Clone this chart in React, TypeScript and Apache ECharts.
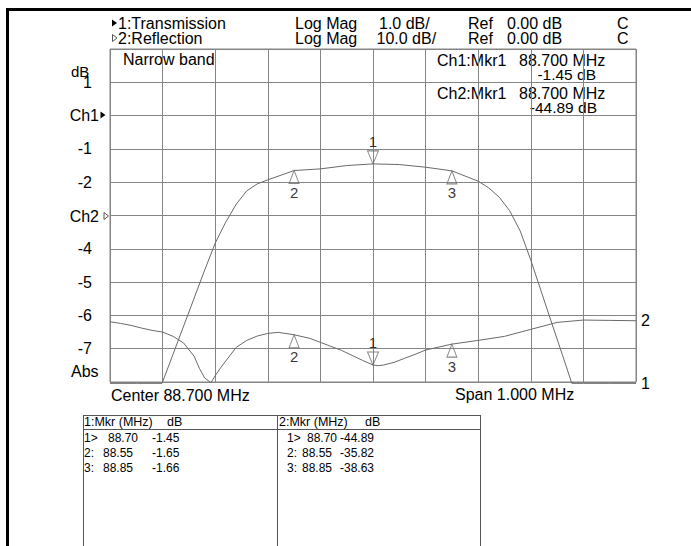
import React, { useEffect, useRef } from 'react';
import * as echarts from 'echarts';

const FONT = '"Liberation Sans", Arial, Helvetica, sans-serif';

// Channel 1 (Transmission), 1 dB/div, ref 0 dB
const freqT = [88.2, 88.25, 88.299, 88.32, 88.34, 88.36, 88.38, 88.4, 88.42, 88.44, 88.46, 88.48, 88.5, 88.55, 88.6, 88.65, 88.7, 88.75, 88.8, 88.85, 88.9, 88.92, 88.94, 88.96, 88.98, 89.0, 89.02, 89.04, 89.06, 89.078, 89.1, 89.15, 89.2];
const transmission = [-8.04, -8.04, -8.04, -7.16, -6.32, -5.48, -4.64, -3.83, -3.2, -2.66, -2.26, -2.05, -1.93, -1.65, -1.6, -1.5, -1.45, -1.47, -1.55, -1.66, -1.97, -2.17, -2.45, -2.86, -3.47, -4.34, -5.29, -6.24, -7.18, -8.04, -8.04, -8.04, -8.04];

// Channel 2 (Reflection), 10 dB/div, ref 0 dB
const freqR = [88.2, 88.22, 88.24, 88.26, 88.28, 88.3, 88.32, 88.34, 88.36, 88.37, 88.38, 88.392, 88.4, 88.41, 88.42, 88.44, 88.46, 88.48, 88.5, 88.52, 88.55, 88.58, 88.6, 88.62, 88.64, 88.66, 88.68, 88.7, 88.71, 88.72, 88.74, 88.76, 88.78, 88.8, 88.85, 88.9, 88.95, 89.0, 89.05, 89.1, 89.15, 89.2];
const reflection = [-31.9, -32.4, -33.0, -33.8, -34.5, -35.0, -36.3, -38.3, -42.3, -45.9, -48.8, -50.2, -48.1, -45.8, -43.7, -39.6, -37.5, -36.2, -35.4, -35.1, -35.82, -36.9, -38.1, -39.3, -40.5, -42.0, -43.5, -44.89, -45.1, -44.9, -44.1, -42.9, -41.7, -40.4, -38.63, -37.5, -36.3, -34.2, -32.1, -31.4, -31.5, -31.6];

// Markers
const mkrNames = ['1', '2', '3'];
const mkrRowLabels = ['1>', '2:', '3:'];
const mkrFreqs = [88.7, 88.55, 88.85];
const mkrCh1 = [-1.45, -1.65, -1.66];
const mkrCh2 = [-44.89, -35.82, -38.63];

// Y tick labels (Ch1 scale, 1 dB/div)
const yTickLabels: Record<string, string> = { '1': '1', '-1': '-1', '-2': '-2', '-4': '-4', '-5': '-5', '-6': '-6', '-7': '-7' };

// Header
const traceTitles = ['1:Transmission', '2:Reflection'];
const traceFormats = ['Log Mag', 'Log Mag'];
const traceScales = ['1.0 dB/', '10.0 dB/'];
const traceRefs = ['0.00 dB', '0.00 dB'];

const TRACE_COLOR = '#6a6a6a';
const GRID_COLOR = '#858585';
const TABLE_FONT = 12;

function txt(text: string, x: number, y: number, size = 16, align: string = 'left') {
  return {
    type: 'text',
    x,
    y,
    silent: true,
    style: { text, font: `${size}px ${FONT}`, fill: '#000', align, verticalAlign: 'middle' },
  };
}

function markerData(vals: number[]) {
  return mkrFreqs.map((f, i) => ({
    value: [f, vals[i]],
    symbol: i === 0 ? 'path://M0,0L10,0L5,13Z' : 'triangle',
    symbolSize: i === 0 ? [11, 13] : [10, 13],
    symbolOffset: i === 0 ? [0, -6.5] : [0, 6.5],
    label: { position: i === 0 ? 'top' : 'bottom', formatter: mkrNames[i] },
  }));
}

export default function App() {
  const ref = useRef<HTMLDivElement>(null);
  useEffect(() => {
    if (!ref.current) return;
    const chart = echarts.init(ref.current, undefined, { renderer: 'svg' });

    const graphics: any[] = [
      { type: 'rect', shape: { x: 6, y: 8, width: 3, height: 538 }, style: { fill: '#000' }, silent: true },
      { type: 'rect', shape: { x: 6, y: 8, width: 685, height: 3 }, style: { fill: '#000' }, silent: true },
      // header triangles
      { type: 'polygon', shape: { points: [[112, 19.5], [117, 23], [112, 26.5]] }, style: { fill: '#000' }, silent: true },
      { type: 'polygon', shape: { points: [[112.5, 34.5], [117, 38], [112.5, 41.5]] }, style: { fill: 'none', stroke: '#555', lineWidth: 1 }, silent: true },
      txt(traceTitles[0], 118, 23),
      txt(traceTitles[1], 118, 38),
      txt(traceFormats[0], 295, 23),
      txt(traceFormats[1], 295, 38),
      txt(traceScales[0], 379, 23),
      txt(traceScales[1], 376.5, 38),
      txt('Ref', 468, 23),
      txt('Ref', 468, 38),
      txt(traceRefs[0], 507, 23),
      txt(traceRefs[1], 507, 38),
      txt('C', 617, 23),
      txt('C', 617, 38),
      // inside plot
      txt('Narrow band', 123, 59),
      txt('Ch1:Mkr1', 437, 60),
      txt(mkrFreqs[0].toFixed(3) + ' MHz', 519, 60),
      txt(mkrCh1[0].toFixed(2) + ' dB', 596, 74, 15.5, 'right'),
      txt('Ch2:Mkr1', 437, 93),
      txt(mkrFreqs[0].toFixed(3) + ' MHz', 519, 93),
      txt(mkrCh2[0].toFixed(2) + ' dB', 597, 107.5, 15.5, 'right'),
      // left scale annotations
      txt('dB', 71, 71, 15),
      txt('Ch1', 99, 115, 16, 'right'),
      { type: 'polygon', shape: { points: [[100.5, 111.5], [105.5, 115], [100.5, 118.5]] }, style: { fill: '#000' }, silent: true },
      txt('Ch2', 99, 216, 16, 'right'),
      { type: 'polygon', shape: { points: [[104, 212.5], [108.5, 216], [104, 219.5]] }, style: { fill: 'none', stroke: '#555', lineWidth: 1 }, silent: true },
      txt('Abs', 71, 371),
      // bottom of plot
      txt('Center 88.700 MHz', 111, 395),
      txt('Span 1.000 MHz', 455, 394),
      // table
      { type: 'line', shape: { x1: 83, y1: 415.5, x2: 480, y2: 415.5 }, style: { stroke: '#555', lineWidth: 1 }, silent: true },
      { type: 'line', shape: { x1: 83, y1: 429.5, x2: 480, y2: 429.5 }, style: { stroke: '#555', lineWidth: 1 }, silent: true },
      { type: 'line', shape: { x1: 83.5, y1: 415, x2: 83.5, y2: 546 }, style: { stroke: '#555', lineWidth: 1 }, silent: true },
      { type: 'line', shape: { x1: 277.5, y1: 415, x2: 277.5, y2: 546 }, style: { stroke: '#555', lineWidth: 1 }, silent: true },
      { type: 'line', shape: { x1: 480.5, y1: 415, x2: 480.5, y2: 546 }, style: { stroke: '#555', lineWidth: 1 }, silent: true },
      txt('1:Mkr (MHz)', 84, 422, TABLE_FONT + 0.5),
      txt('dB', 167, 422, TABLE_FONT + 0.5),
      txt('2:Mkr (MHz)', 279, 422, TABLE_FONT + 0.5),
      txt('dB', 365, 422, TABLE_FONT + 0.5),
    ];
    const rowY = [437.5, 452.5, 468];
    mkrFreqs.forEach((f, i) => {
      const fx = i === 0 ? 108 : 103;
      graphics.push(txt(mkrRowLabels[i], 84, rowY[i], TABLE_FONT));
      graphics.push(txt(f.toFixed(2), fx, rowY[i], TABLE_FONT));
      graphics.push(txt(mkrCh1[i].toFixed(2), 152, rowY[i], TABLE_FONT));
      graphics.push(txt(mkrRowLabels[i], 287, rowY[i], TABLE_FONT));
      graphics.push(txt(f.toFixed(2), fx + 199, rowY[i], TABLE_FONT));
      graphics.push(txt(mkrCh2[i].toFixed(2), 340, rowY[i], TABLE_FONT));
    });

    const option: any = {
      animation: false,
      backgroundColor: '#fff',
      textStyle: { fontFamily: FONT },
      grid: { left: 110, top: 49, width: 526, height: 333, show: true, borderColor: GRID_COLOR, borderWidth: 1, backgroundColor: 'transparent' },
      xAxis: {
        type: 'value', min: 88.2, max: 89.2, interval: 0.1,
        axisLine: { show: false }, axisTick: { show: false }, axisLabel: { show: false },
        splitLine: { show: true, lineStyle: { color: GRID_COLOR, width: 1 } },
      },
      yAxis: [
        {
          type: 'value', min: -8, max: 2, interval: 1,
          axisLine: { show: false }, axisTick: { show: false },
          axisLabel: {
            margin: 18, fontSize: 16, color: '#000', fontFamily: FONT,
            formatter: (v: number) => yTickLabels[String(v)] ?? '',
          },
          splitLine: { show: true, lineStyle: { color: GRID_COLOR, width: 1 } },
        },
        { type: 'value', min: -50, max: 50, interval: 10, show: false, splitLine: { show: false } },
      ],
      series: [
        {
          type: 'line', yAxisIndex: 0, symbol: 'none', clip: false,
          data: freqT.map((f, i) => [f, transmission[i]]),
          lineStyle: { color: TRACE_COLOR, width: 1 },
          endLabel: { show: true, formatter: '1', fontSize: 16, color: '#000', distance: 5, fontFamily: FONT },
          z: 3,
        },
        {
          type: 'line', yAxisIndex: 1, symbol: 'none', clip: false,
          data: freqR.map((f, i) => [f, reflection[i]]),
          lineStyle: { color: TRACE_COLOR, width: 1 },
          endLabel: { show: true, formatter: '2', fontSize: 16, color: '#000', distance: 5, fontFamily: FONT },
          z: 3,
        },
        {
          type: 'scatter', yAxisIndex: 0, clip: false,
          data: markerData(mkrCh1),
          itemStyle: { color: 'rgba(0,0,0,0)', borderColor: TRACE_COLOR, borderWidth: 1 },
          label: { show: true, color: '#000', fontSize: 15, distance: 1, fontFamily: FONT },
          z: 4,
        },
        {
          type: 'scatter', yAxisIndex: 1, clip: false,
          data: markerData(mkrCh2),
          itemStyle: { color: 'rgba(0,0,0,0)', borderColor: TRACE_COLOR, borderWidth: 1 },
          label: { show: true, color: '#000', fontSize: 15, distance: 1, fontFamily: FONT },
          z: 4,
        },
      ],
      graphic: graphics,
    };
    chart.setOption(option);
    return () => chart.dispose();
  }, []);
  return <div ref={ref} style={{ position: 'fixed', left: 0, top: 0, width: 691, height: 546 }} />;
}
